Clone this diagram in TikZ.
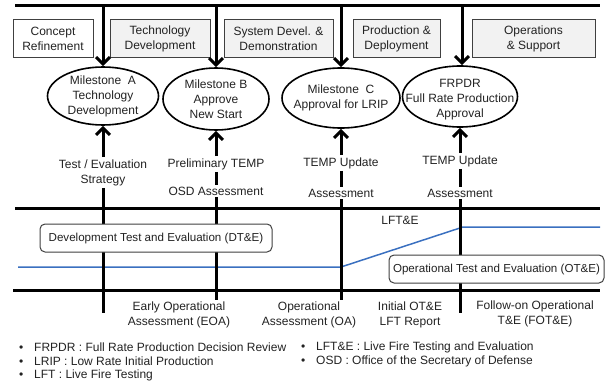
\documentclass[tikz,border=0pt]{standalone}
\usepackage{fontspec}
\setmainfont{Liberation Sans}
\usetikzlibrary{arrows.meta,shapes.geometric}
\definecolor{ink}{HTML}{222222}
\definecolor{edge}{HTML}{404040}
\definecolor{phasefill}{HTML}{F2F2F2}
\definecolor{trend}{HTML}{3A70C0}
\newcommand\bul{\makebox[15pt][l]{\textbullet}}

\begin{document}
\begin{tikzpicture}[x=1pt,y=-1pt,
  every node/.style={font=\fontsize{12}{15}\selectfont, text=ink, inner sep=0pt},
  phase/.style={draw=edge, line width=1pt, fill=phasefill, minimum height=38pt, align=center},
  mile/.style={draw=black, line width=1.6pt, ellipse, inner sep=0pt},
  lbl/.style={align=center, inner ysep=2pt},
  rail/.style={line width=3pt, black},
  arr/.style={rail, -{Straight Barb[length=7pt,width=14pt]}},
  tebox/.style={draw=edge, line width=1pt, fill=white, rounded corners=5pt,
    minimum height=28pt, font=\fontsize{11.6}{14}\selectfont},
  trendline/.style={draw=trend, line width=1.5pt},
]
\useasboundingbox (0,0) rectangle (607,385);

% acquisition phases
\node[phase, fill=white, minimum width=80pt] (cr) at (53,39) {Concept\\Refinement};
\node[phase, minimum width=100pt] (td) at (160,39) {Technology\\Development};
\node[phase, minimum width=109pt] (sd) at (278.5,39) {System Devel. \&\\Demonstration};
\node[phase, minimum width=87pt] (pd) at (396.5,39) {Production \&\\Deployment};
\node[phase, minimum width=123pt] (os) at (533.5,39) {Operations\\\& Support};

% milestone decisions
\node[mile, minimum width=111pt, minimum height=58pt] (mA) at (103,96) {};
\node[lbl] (mAt) at (103,96) {Milestone~ A\\Technology\\Development};
\node[mile, minimum width=106pt, minimum height=62pt] (mB) at (216,99) {};
\node[lbl] (mBt) at (216,99) {Milestone B\\Approve\\New Start};
\node[mile, minimum width=118pt, minimum height=60pt] (mC) at (341,98) {};
\node[lbl] (mCt) at (341,98) {Milestone~ C\\Approval for LRIP};
\node[mile, minimum width=115pt, minimum height=61pt] (mF) at (460,96.5) {};
\node[lbl] (mFt) at (460,99.5) {FRPDR\\Full Rate Production\\Approval};

% top rail and decision arrows
\coordinate (t0) at (15,6);
\coordinate (t1) at (600,6);
\coordinate (tF) at (462,6);
\draw[rail] (t0) -- (t1);
\draw[arr] (mA.north |- t0) -- (mA.north);
\draw[arr] (mB.north |- t0) -- (mB.north);
\draw[arr] (mC.north |- t0) -- (mC.north);
\draw[arr] (tF) -- (tF |- mF.north);

% T&E band
\coordinate (h0) at (15,208);
\coordinate (h1) at (600,208);
\coordinate (g0) at (13,290);
\coordinate (g1) at (600,290);
\coordinate (b0) at (18,267);
\coordinate (b1) at (341,267);
\coordinate (b2) at (463,227);
\coordinate (b3) at (600,227);
\draw[trendline] (b0) -- (b1) -- (b2) -- (b3);
\draw[rail] (h0) -- (h1);
\draw[rail] (g0) -- (g1);

% inputs to each milestone
\node[lbl] (lA) at (103,172.5) {Test / Evaluation\\Strategy};
\coordinate (eA) at (103,313);
\draw[arr] (lA.north) -- (mA.south);
\draw[rail] (lA.south) -- (eA);

\node[lbl] (lB1) at (216,164) {Preliminary TEMP};
\node[lbl] (lB2) at (216,191) {OSD Assessment};
\coordinate (eB) at (216,300);
\draw[arr] (lB1.north) -- (mB.south);
\draw[rail] (lB1.south) -- (lB2.north);
\draw[rail] (lB2.south) -- (eB);

\node[lbl] (lC1) at (341,163) {TEMP Update};
\node[lbl] (lC2) at (341,193) {Assessment};
\coordinate (eC) at (341,300);
\draw[arr] (lC1.north) -- (mC.south);
\draw[rail] (lC1.south) -- (lC2.north);
\draw[rail] (lC2.south) -- (eC);

\node[lbl] (lF1) at (460,161) {TEMP Update};
\node[lbl] (lF2) at (460,193) {Assessment};
\coordinate (eF) at (460,313);
\draw[arr] (lF1.north) -- (mF.south);
\draw[rail] (lF1.south) -- (lF2.north);
\draw[rail] (lF2.south) -- (eF);

% test and evaluation tracks
\node (lfte) at (400,220) {LFT\&E};
\node[tebox, minimum width=232pt] (dte) at (156,238) {Development Test and Evaluation (DT\&E)};
\node[tebox, minimum width=215pt] (ote) at (496.5,269) {Operational Test and Evaluation (OT\&E)};

% assessments between milestones
\node[lbl] (eoa) at (179,315) {Early Operational\\Assessment (EOA)};
\node[lbl] (oa) at (309,315) {Operational\\Assessment (OA)};
\node[lbl] (ioe) at (410,315) {Initial OT\&E\\LFT Report};
\node[lbl] (fot) at (535,314) {Follow-on Operational\\T\&E (FOT\&E)};

% abbreviations
\node[anchor=west] (k1) at (19,347) {\bul FRPDR : Full Rate Production Decision Review};
\node[anchor=west] (k2) at (19,361) {\bul LRIP : Low Rate Initial Production};
\node[anchor=west] (k3) at (19,375) {\bul LFT : Live Fire Testing};
\node[anchor=west] (k4) at (301,347) {\bul LFT\&E : Live Fire Testing and Evaluation};
\node[anchor=west] (k5) at (301,361) {\bul OSD : Office of the Secretary of Defense};
\end{tikzpicture}
\end{document}
